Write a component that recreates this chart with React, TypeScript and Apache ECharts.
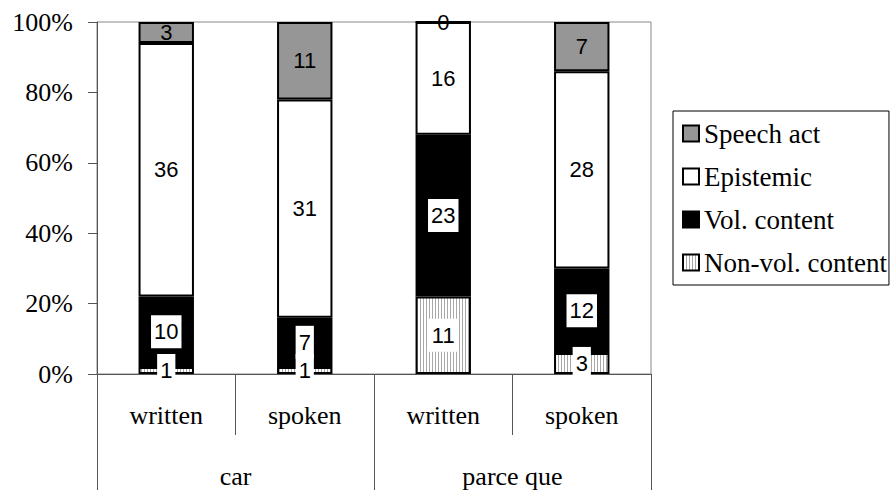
import React, { useEffect, useRef } from "react";
import * as echarts from "echarts";

const subCategories = ["written", "spoken", "written", "spoken"];
const groups = ["car", "parce que"];
const nonVolContent = [1, 1, 11, 3];
const volContent = [10, 7, 23, 12];
const epistemic = [36, 31, 16, 28];
const speechAct = [3, 11, 0, 7];
const legendOrder = ["Speech act", "Epistemic", "Vol. content", "Non-vol. content"];

const SERIF = "'Liberation Serif', 'Times New Roman', serif";
const SANS = "'Liberation Sans', Arial, sans-serif";

function makeStripe(): HTMLCanvasElement {
  const c = document.createElement("canvas");
  c.width = 3;
  c.height = 3;
  const ctx = c.getContext("2d")!;
  ctx.fillStyle = "#ffffff";
  ctx.fillRect(0, 0, 3, 3);
  ctx.fillStyle = "#a8a8a8";
  ctx.fillRect(0, 0, 1, 3);
  return c;
}

export default function App() {
  const ref = useRef<HTMLDivElement>(null);
  useEffect(() => {
    if (!ref.current) return;
    const chart = echarts.init(ref.current, null, { renderer: "svg" });
    const totals = subCategories.map(
      (_, i) => nonVolContent[i] + volContent[i] + epistemic[i] + speechAct[i]
    );
    const pct = (arr: number[]) =>
      arr.map((v, i) => ({ value: (v / totals[i]) * 100, count: v }));

    const labelBase = {
      show: true,
      position: "inside" as const,
      fontFamily: SANS,
      fontSize: 22,
      color: "#000",
      formatter: (p: any) => String(p.data.count),
    };
    const boxedLabel = {
      ...labelBase,
      backgroundColor: "#fff",
      padding: [5, 3, 4, 3],
      lineHeight: 24,
    };
    const mk = (name: string, arr: number[], color: any, label: any) => ({
      name,
      type: "bar",
      stack: "total",
      barWidth: "40%",
      data: pct(arr),
      itemStyle: { color, borderColor: "#000", borderWidth: 2 },
      label,
    });

    chart.setOption({
      animation: false,
      grid: {
        left: 97,
        right: 245,
        top: 22,
        bottom: 116,
        show: true,
        borderColor: "#888",
        borderWidth: 1,
        backgroundColor: "transparent",
      },
      legend: {
        orient: "vertical",
        left: 673,
        top: 111,
        data: legendOrder,
        borderColor: "#000",
        borderWidth: 1,
        padding: [9, 2, 9, 9],
        itemWidth: 16,
        itemHeight: 16,
        itemGap: 16,
        icon: "rect",
        textStyle: { fontFamily: SERIF, fontSize: 27, color: "#000", lineHeight: 26 },
      },
      xAxis: [
        {
          type: "category",
          data: subCategories,
          position: "bottom",
          axisLine: { show: true, lineStyle: { color: "#555", width: 1 } },
          axisTick: { show: true, length: 61, lineStyle: { color: "#555" } },
          axisLabel: {
            fontFamily: SERIF,
            fontSize: 26,
            color: "#000",
            margin: 28,
            interval: 0,
          },
        },
        {
          type: "category",
          data: groups,
          position: "bottom",
          axisLine: { show: false },
          axisTick: { show: true, length: 116, lineStyle: { color: "#555" } },
          axisLabel: {
            fontFamily: SERIF,
            fontSize: 26,
            color: "#000",
            margin: 89,
            interval: 0,
          },
        },
      ],
      yAxis: {
        type: "value",
        min: 0,
        max: 100,
        interval: 20,
        axisLine: { show: true, lineStyle: { color: "#555" } },
        axisTick: { show: true, length: 9, lineStyle: { color: "#555" } },
        splitLine: { show: false },
        axisLabel: {
          fontFamily: SERIF,
          fontSize: 26,
          color: "#000",
          margin: 24,
          formatter: "{value}%",
        },
      },
      series: [
        mk("Non-vol. content", nonVolContent, { image: makeStripe(), repeat: "repeat" }, boxedLabel),
        mk("Vol. content", volContent, "#000", boxedLabel),
        mk("Epistemic", epistemic, "#fff", labelBase),
        mk("Speech act", speechAct, "#969696", labelBase),
      ],
    });
    return () => chart.dispose();
  }, []);
  return (
    <div
      ref={ref}
      style={{ position: "fixed", left: 0, top: 0, width: 896, height: 490, background: "#fff" }}
    />
  );
}
